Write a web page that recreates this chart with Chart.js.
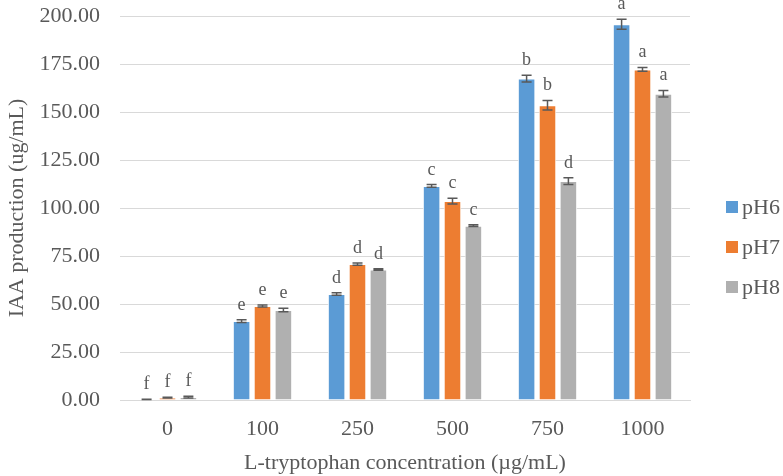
<!DOCTYPE html>
<html lang="en">
<head>
<meta charset="UTF-8">
<title>IAA production</title>
<script src="https://cdn.jsdelivr.net/npm/chart.js@4.4.0/dist/chart.umd.min.js"></script>
<style>
    body { margin: 0; background: #fff; }
    #wrap { position: relative; width: 783px; height: 476px; }
    #legend { position: absolute; left: 726px; top: 187px; font-family: "Liberation Serif", serif; font-size: 22px; color: #595959; }
    .item { display: flex; align-items: center; height: 40px; }
    .box { width: 12px; height: 12px; margin-right: 4px; }
</style>
</head>
<body>
<div id="wrap">
    <canvas id="chart" width="783" height="476"></canvas>
    <div id="legend"></div>
</div>
<script>
    // data
    const concentrations = ['0', '100', '250', '500', '750', '1000'];
    const seriesNames = ['pH6', 'pH7', 'pH8'];
    const seriesColors = ['#5b9bd5', '#ed7d31', '#b0b0b0'];

    const pH6 = [0.3, 41.1, 55.2, 111.5, 167.4, 195.7];
    const pH7 = [1.2, 49.0, 70.8, 103.6, 153.5, 172.2];
    const pH8 = [1.5, 46.9, 68.0, 90.8, 114.0, 159.5];

    const errPH6 = [0.1, 0.7, 0.6, 0.7, 1.8, 2.6];
    const errPH7 = [0.2, 0.5, 0.6, 1.5, 2.5, 1.0];
    const errPH8 = [0.5, 0.9, 0.4, 0.5, 1.7, 1.7];

    const lettersPH6 = ['f', 'e', 'd', 'c', 'b', 'a'];
    const lettersPH7 = ['f', 'e', 'd', 'c', 'b', 'a'];
    const lettersPH8 = ['f', 'e', 'd', 'c', 'd', 'a'];

    const yTicks = [0, 25, 50, 75, 100, 125, 150, 175, 200];

    const values = [pH6, pH7, pH8];
    const errors = [errPH6, errPH7, errPH8];
    const letters = [lettersPH6, lettersPH7, lettersPH8];

    const FONT = '"Liberation Serif", "Times New Roman", serif';
    const GREY = '#595959';

    // error bars + significance letters
    const errorBarPlugin = {
        id: 'errorBars',
        afterDatasetsDraw(chart) {
            const ctx = chart.ctx;
            const y = chart.scales.y;
            ctx.save();
            values.forEach((vals, i) => {
                const meta = chart.getDatasetMeta(i);
                meta.data.forEach((bar, j) => {
                    const top = y.getPixelForValue(vals[j] + errors[i][j]);
                    const bot = y.getPixelForValue(vals[j] - errors[i][j]);
                    ctx.strokeStyle = GREY;
                    ctx.lineWidth = 1.5;
                    ctx.beginPath();
                    ctx.moveTo(bar.x, top); ctx.lineTo(bar.x, bot);
                    ctx.moveTo(bar.x - 5, top); ctx.lineTo(bar.x + 5, top);
                    ctx.moveTo(bar.x - 5, bot); ctx.lineTo(bar.x + 5, bot);
                    ctx.stroke();

                    ctx.fillStyle = GREY;
                    ctx.font = '18px ' + FONT;
                    ctx.textAlign = 'center';
                    ctx.textBaseline = 'alphabetic';
                    ctx.fillText(letters[i][j], bar.x, top - 10);
                });
            });
            ctx.restore();
        }
    };

    new Chart(document.getElementById('chart'), {
        type: 'bar',
        data: {
            labels: concentrations,
            datasets: values.map((v, i) => ({
                label: seriesNames[i],
                data: v,
                backgroundColor: seriesColors[i],
                borderColor: '#ffffff',
                borderWidth: 1,
                categoryPercentage: 0.66,
                barPercentage: 0.84
            }))
        },
        options: {
            responsive: false,
            animation: false,
            layout: { padding: { top: 0, right: 93, left: 2, bottom: 0 } },
            plugins: {
                legend: { display: false },
                tooltip: { enabled: false }
            },
            scales: {
                x: {
                    afterFit(scale) { scale.height = 76; },
                    grid: { display: false },
                    border: { color: '#d9d9d9' },
                    ticks: { color: GREY, font: { family: FONT, size: 22 }, padding: 8 },
                    title: { display: true, text: 'L-tryptophan concentration (µg/mL)', color: GREY, font: { family: FONT, size: 22 }, padding: { top: 0, bottom: 0 } }
                },
                y: {
                    min: 0,
                    max: 200,
                    afterBuildTicks(axis) { axis.ticks = yTicks.map(v => ({ value: v })); },
                    afterFit(scale) {
                        scale.width = 118;
                        scale.paddingTop = 16;
                        scale.paddingBottom = 14;
                    },
                    grid: { color: '#d9d9d9', lineWidth: 1, drawTicks: false },
                    border: { display: false },
                    ticks: {
                        color: GREY,
                        font: { family: FONT, size: 22 },
                        padding: 20,
                        callback: v => Number(v).toFixed(2)
                    },
                    title: { display: true, text: 'IAA production (ug/mL)', color: GREY, font: { family: FONT, size: 22 }, padding: { top: 2, bottom: 4 } }
                }
            }
        },
        plugins: [errorBarPlugin]
    });

    const legend = document.getElementById('legend');
    seriesNames.forEach((name, i) => {
        legend.innerHTML += `<div class="item"><span class="box" style="background:${seriesColors[i]}"></span>${name}</div>`;
    });
</script>
</body>
</html>
